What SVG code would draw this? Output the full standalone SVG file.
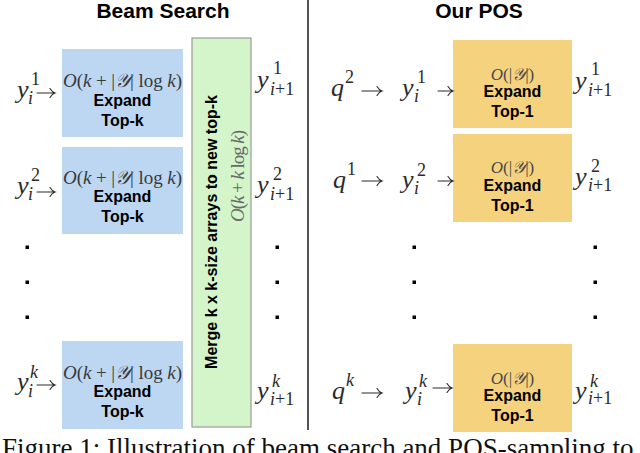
<svg xmlns="http://www.w3.org/2000/svg" width="640" height="453" viewBox="0 0 640 453">
<style>
.blue{fill:#BDD7F3}
.yel{fill:#F5D27E}
.green{fill:#D4F5CA;stroke:#9c9c9c;stroke-width:1.2}
.b{font-family:"Liberation Sans",Arial,sans-serif;font-weight:bold;font-size:16px;fill:#000;text-anchor:middle}
.title{font-family:"Liberation Sans",Arial,sans-serif;font-weight:bold;font-size:21px;fill:#000;text-anchor:middle}
.m{font-family:"Liberation Serif","DejaVu Serif",serif;fill:#2a2a2a}
.mi{font-family:"Liberation Serif","DejaVu Serif",serif;font-style:italic;fill:#2a2a2a}
.big{font-size:26px}
.sm{font-size:18px}
.bm{font-family:"Liberation Serif","DejaVu Serif",serif;font-size:19px;fill:#3a3a3a}
.arr{fill:none;stroke:#2a2a2a;stroke-width:1.1;stroke-linecap:round}
.dot{fill:#000}
.cap{font-family:"Liberation Serif","Times New Roman",serif;font-size:27px;fill:#111}
</style>

<text class="title" x="163" y="18">Beam Search</text>
<text class="title" x="479" y="18">Our POS</text>
<line x1="308" y1="0" x2="308" y2="430" stroke="#1a1a1a" stroke-width="1.5"/>

<!-- Beam search expand boxes -->
<g id="expand1">
<rect class="blue" x="62" y="49" width="121" height="88"/>
<text class="bm" x="63" y="87" textLength="119" lengthAdjust="spacing"><tspan font-style="italic">O</tspan>(<tspan font-style="italic">k</tspan> + |<tspan font-style="italic">𝒴</tspan>| log <tspan font-style="italic">k</tspan>)</text>
<text class="b" x="122.5" y="106">Expand</text>
<text class="b" x="122.5" y="126">Top-k</text>
</g>
<g id="expand2">
<rect class="blue" x="62" y="147" width="121" height="87"/>
<text class="bm" x="63" y="184" textLength="119" lengthAdjust="spacing"><tspan font-style="italic">O</tspan>(<tspan font-style="italic">k</tspan> + |<tspan font-style="italic">𝒴</tspan>| log <tspan font-style="italic">k</tspan>)</text>
<text class="b" x="122.5" y="202">Expand</text>
<text class="b" x="122.5" y="222">Top-k</text>
</g>
<g id="expandk">
<rect class="blue" x="62" y="341" width="121" height="88"/>
<text class="bm" x="63" y="379" textLength="119" lengthAdjust="spacing"><tspan font-style="italic">O</tspan>(<tspan font-style="italic">k</tspan> + |<tspan font-style="italic">𝒴</tspan>| log <tspan font-style="italic">k</tspan>)</text>
<text class="b" x="122.5" y="397">Expand</text>
<text class="b" x="122.5" y="417">Top-k</text>
</g>

<g id="merge">
<rect class="green" x="192" y="38" width="59" height="389"/>
<text class="b" transform="translate(217,232) rotate(-90)">Merge k x k-size arrays to new top-k</text>
<text class="bm" transform="translate(244,176) rotate(-90)" text-anchor="middle" style="fill:#6a6a6a" textLength="92" lengthAdjust="spacing"><tspan font-style="italic">O</tspan>(<tspan font-style="italic">k</tspan> + <tspan font-style="italic">k</tspan> log <tspan font-style="italic">k</tspan>)</text>
</g>

<!-- Left labels -->
<g id="yi1">
<text class="mi big" x="17" y="98">y</text><text class="m sm" x="31" y="85">1</text><text class="mi sm" x="28" y="104">i</text>
</g>
<g id="yi2">
<text class="mi big" x="17" y="194">y</text><text class="m sm" x="31" y="181">2</text><text class="mi sm" x="28" y="200">i</text>
</g>
<g id="yik">
<text class="mi big" x="17" y="390">y</text><text class="mi sm" x="30" y="378">k</text><text class="mi sm" x="28" y="397">i</text>
</g>
<g id="yn1">
<text class="mi big" x="257" y="88">y</text><text class="m sm" x="273" y="74">1</text><text class="mi sm" x="270" y="95">i<tspan font-style="normal">+1</tspan></text>
</g>
<g id="yn2">
<text class="mi big" x="257" y="193">y</text><text class="m sm" x="273" y="180">2</text><text class="mi sm" x="270" y="200">i<tspan font-style="normal">+1</tspan></text>
</g>
<g id="ynk">
<text class="mi big" x="257" y="399">y</text><text class="mi sm" x="272" y="387">k</text><text class="mi sm" x="270" y="405">i<tspan font-style="normal">+1</tspan></text>
</g>

<!-- POS side -->
<g id="pos1">
<rect class="yel" x="453" y="40" width="119" height="88"/>
<text class="bm" x="512.5" y="80" text-anchor="middle" style="font-size:17px;fill:#4a4a4a"><tspan font-style="italic">O</tspan>(|<tspan font-style="italic">𝒴</tspan>|)</text>
<text class="b" x="512.5" y="97">Expand</text>
<text class="b" x="512.5" y="117">Top-1</text>
</g>
<g id="pos2">
<rect class="yel" x="453" y="134" width="119" height="88"/>
<text class="bm" x="512.5" y="173" text-anchor="middle" style="font-size:17px;fill:#4a4a4a"><tspan font-style="italic">O</tspan>(|<tspan font-style="italic">𝒴</tspan>|)</text>
<text class="b" x="512.5" y="191">Expand</text>
<text class="b" x="512.5" y="211">Top-1</text>
</g>
<g id="posk">
<rect class="yel" x="453" y="344" width="119" height="88"/>
<text class="bm" x="512.5" y="384" text-anchor="middle" style="font-size:17px;fill:#4a4a4a"><tspan font-style="italic">O</tspan>(|<tspan font-style="italic">𝒴</tspan>|)</text>
<text class="b" x="512.5" y="401">Expand</text>
<text class="b" x="512.5" y="421">Top-1</text>
</g>

<g id="q2"><text class="mi big" x="331" y="96">q</text><text class="m sm" x="345" y="83">2</text></g>
<g id="q1"><text class="mi big" x="333" y="188">q</text><text class="m sm" x="347" y="175">1</text></g>
<g id="qk"><text class="mi big" x="332" y="399">q</text><text class="mi sm" x="346" y="386">k</text></g>

<g id="pyi1"><text class="mi big" x="402" y="96">y</text><text class="m sm" x="417" y="83">1</text><text class="mi sm" x="414" y="102">i</text></g>
<g id="pyi2"><text class="mi big" x="402" y="188">y</text><text class="m sm" x="417" y="176">2</text><text class="mi sm" x="414" y="194">i</text></g>
<g id="pyik"><text class="mi big" x="405" y="399">y</text><text class="mi sm" x="419" y="387">k</text><text class="mi sm" x="417" y="405">i</text></g>

<g id="pyn1"><text class="mi big" x="575" y="89">y</text><text class="m sm" x="591" y="75">1</text><text class="mi sm" x="588" y="96">i<tspan font-style="normal">+1</tspan></text></g>
<g id="pyn2"><text class="mi big" x="575" y="185">y</text><text class="m sm" x="591" y="172">2</text><text class="mi sm" x="588" y="191">i<tspan font-style="normal">+1</tspan></text></g>
<g id="pynk"><text class="mi big" x="575" y="399">y</text><text class="mi sm" x="590" y="387">k</text><text class="mi sm" x="588" y="404">i<tspan font-style="normal">+1</tspan></text></g>

<!-- connectors -->
<g id="connectors">
<path class="arr" d="M37,93 H55 M50,88.5 Q52,92 55,93 Q52,94 50,97.5"/>
<path class="arr" d="M37,192 H55 M50,187.5 Q52,191 55,192 Q52,193 50,196.5"/>
<path class="arr" d="M37,385 H55 M50,380.5 Q52,384 55,385 Q52,386 50,389.5"/>
<path class="arr" d="M362,91 H382 M377,86.5 Q379,90 382,91 Q379,92 377,95.5"/>
<path class="arr" d="M362,181 H382 M377,176.5 Q379,180 382,181 Q379,182 377,185.5"/>
<path class="arr" d="M362,393 H382 M377,388.5 Q379,392 382,393 Q379,394 377,397.5"/>
<path class="arr" d="M438,91 H453 M448,86.5 Q450,90 453,91 Q450,92 448,95.5"/>
<path class="arr" d="M438,181 H453 M448,176.5 Q450,180 453,181 Q450,182 448,185.5"/>
<path class="arr" d="M433,388 H452 M447,383.5 Q449,387 452,388 Q449,389 447,392.5"/>
</g>

<g id="dots">
<rect class="dot" x="25.5" y="245.5" width="3.5" height="3.5"/>
<rect class="dot" x="25.5" y="280.5" width="3.5" height="3.5"/>
<rect class="dot" x="25.5" y="315.5" width="3.5" height="3.5"/>
<rect class="dot" x="275.5" y="245.5" width="3.5" height="3.5"/>
<rect class="dot" x="275.5" y="280.5" width="3.5" height="3.5"/>
<rect class="dot" x="275.5" y="315.5" width="3.5" height="3.5"/>
<rect class="dot" x="412.5" y="245.5" width="3.5" height="3.5"/>
<rect class="dot" x="412.5" y="280.5" width="3.5" height="3.5"/>
<rect class="dot" x="412.5" y="315.5" width="3.5" height="3.5"/>
<rect class="dot" x="593.5" y="245.5" width="3.5" height="3.5"/>
<rect class="dot" x="593.5" y="280.5" width="3.5" height="3.5"/>
<rect class="dot" x="593.5" y="315.5" width="3.5" height="3.5"/>
</g>

<text class="cap" x="2" y="457">Figure 1: Illustration of beam search and POS-sampling to</text>
</svg>
